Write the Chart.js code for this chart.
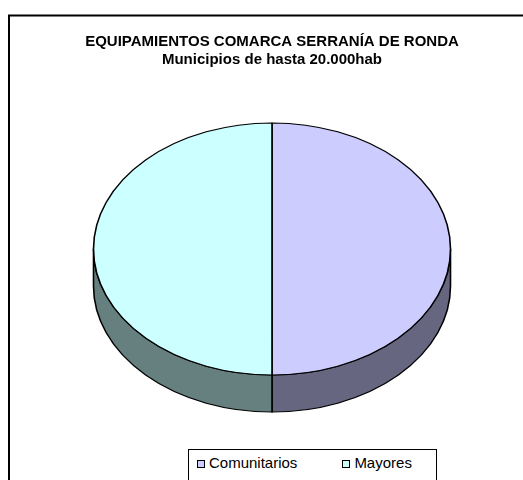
<!DOCTYPE html>
<html>
<head>
<meta charset="utf-8">
<script src="https://cdn.jsdelivr.net/npm/chart.js@4.4.1/dist/chart.umd.min.js"></script>
<style>
  body { margin: 0; background: #fff; }
  #wrap { position: relative; width: 523px; height: 480px; overflow: hidden; }
  #legend {
    position: absolute; left: 188px; top: 449px; width: 249px; height: 40px;
    border: 1px solid #000; background: #fff; box-sizing: border-box;
    font: 15px "Liberation Sans", Arial, sans-serif; color: #000;
    display: flex; padding: 4px 0 0 8px; gap: 45px;
  }
  .item { white-space: nowrap; line-height: 17px; }
  .sw { display: inline-block; width: 6px; height: 6px; border: 1px solid #000; margin-right: 4px; }
</style>
</head>
<body>
<div id="wrap">
  <canvas id="pie_equipamientos" width="523" height="480"></canvas>
  <div id="legend"></div>
</div>
<script>
const labels = ["Comunitarios", "Mayores"];
const values = [50, 50];
const topColors = ["#CCCCFF", "#CCFFFF"];
const sideColors = ["#666680", "#668080"];
const titleLines = ["EQUIPAMIENTOS COMARCA SERRANÍA DE RONDA", "Municipios de hasta 20.000hab"];

// flattening of the pie and height of its side wall
const tilt = 126 / 178.5;
const depth = 37;

const pie3d = {
  id: "pie3d",
  beforeDraw(chart) {
    const ctx = chart.ctx;
    ctx.save();
    ctx.fillStyle = "#fff";
    ctx.fillRect(0, 0, chart.width, chart.height);
    ctx.strokeStyle = "#000";
    ctx.lineWidth = 2;
    ctx.strokeRect(9, 15.5, chart.width + 20, chart.height + 20);
    ctx.restore();
  },
  beforeDatasetsDraw(chart) {
    const ctx = chart.ctx;
    const arcs = chart.getDatasetMeta(0).data;
    ctx.save();
    if (!arcs.length) return;
    const x = arcs[0].x, y = arcs[0].y;
    ctx.translate(x, y);
    ctx.scale(1, tilt);
    ctx.translate(-x, -y);
    const d = depth / tilt;
    ctx.strokeStyle = "#000";
    ctx.lineWidth = 1.6;
    ctx.lineJoin = "round";
    arcs.forEach((arc, i) => {
      const r = arc.outerRadius;
      [0, 2 * Math.PI].forEach((k) => {
        const a = Math.max(arc.startAngle, k);
        const b = Math.min(arc.endAngle, k + Math.PI);
        if (b <= a) return;
        ctx.beginPath();
        ctx.arc(x, y, r, a, b);
        ctx.arc(x, y + d, r, b, a, true);
        ctx.closePath();
        ctx.fillStyle = sideColors[i];
        ctx.fill();
        ctx.stroke();
      });
    });
  },
  afterDatasetsDraw(chart) {
    chart.ctx.restore();
  },
};

const config_equipamientos = {
  type: "pie",
  data: {
    labels: labels,
    datasets: [
      {
        data: values,
        backgroundColor: topColors,
        borderColor: "#000",
        borderWidth: 1.6,
        radius: 178.5,
        clip: false,
      },
    ],
  },
  options: {
    responsive: false,
    animation: false,
    events: [],
    layout: { padding: { left: 21, right: 0, top: 0, bottom: 51 } },
    plugins: {
      legend: { display: false },
      tooltip: { enabled: false },
      title: {
        display: true,
        text: titleLines,
        color: "#000",
        font: { family: '"Liberation Sans", Arial, sans-serif', size: 15, weight: "bold", lineHeight: 1.2 },
        padding: { top: 33, bottom: 0 },
      },
    },
  },
  plugins: [pie3d],
};

const pie_equipamientos = new Chart(document.getElementById("pie_equipamientos"), config_equipamientos);

// legend drawn as html, from the same labels and colours
const legend = document.getElementById("legend");
labels.forEach((label, i) => {
  const item = document.createElement("span");
  item.className = "item";
  item.innerHTML = '<span class="sw" style="background:' + topColors[i] + '"></span>' + label;
  legend.appendChild(item);
});
</script>
</body>
</html>
